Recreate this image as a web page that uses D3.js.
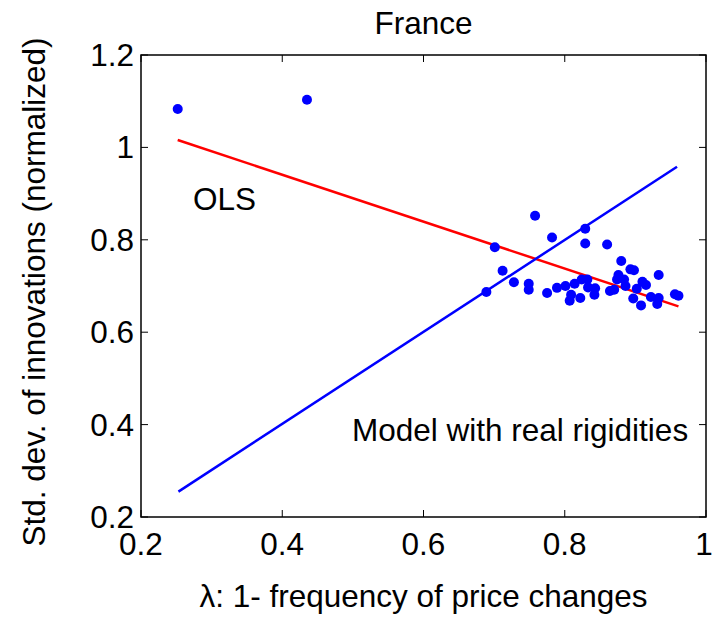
<!DOCTYPE html>
<html><head><meta charset="utf-8">
<script src="https://cdn.jsdelivr.net/npm/d3@7"></script>
<style>body{margin:0;background:#fff}svg text{font-family:"Liberation Sans",Arial,sans-serif;fill:#000}</style>
</head><body><svg id="c" width="712" height="618"></svg>
<script>
const lambdaX = [0.252,0.435,0.758,0.701,0.782,0.829,0.829,0.860,0.712,0.689,0.728,0.749,0.749,0.775,0.789,0.801,0.814,0.824,0.832,0.833,0.843,0.842,0.809,0.807,0.822,0.880,0.893,0.898,0.876,0.874,0.884,0.886,0.864,0.870,0.933,0.910,0.915,0.902,0.897,0.908,0.922,0.933,0.931,0.956,0.961];
const stdDevY = [1.083,1.103,0.852,0.784,0.805,0.824,0.792,0.790,0.733,0.687,0.708,0.705,0.692,0.685,0.696,0.700,0.705,0.714,0.714,0.697,0.695,0.681,0.681,0.668,0.674,0.754,0.736,0.734,0.724,0.714,0.714,0.700,0.689,0.692,0.724,0.709,0.702,0.694,0.673,0.658,0.676,0.674,0.661,0.682,0.679];
const olsLine = [[0.252,1.016],[0.961,0.656]];
const modelLine = [[0.253,0.255],[0.959,0.958]];
const xTicks = [0.2,0.4,0.6,0.8,1];
const yTicks = [0.2,0.4,0.6,0.8,1,1.2];
const labels = {title:"France", x:"λ: 1- frequency of price changes", y:"Std. dev. of innovations (normalized)", ols:"OLS", model:"Model with real rigidities"};

const svg = d3.select("#c");
const L=141,R=706,T=55,B=517;
const x = d3.scaleLinear().domain([0.2,1]).range([L,R]);
const y = d3.scaleLinear().domain([0.2,1.2]).range([B,T]);
const fs = 31.5;
const fmt = d => d===1?"1":d3.format(".1f")(d);

const g = svg.append("g");
const tk=7;
xTicks.forEach(v=>{
  g.append("line").attr("x1",x(v)).attr("x2",x(v)).attr("y1",B).attr("y2",B-tk).attr("stroke","#000");
  g.append("line").attr("x1",x(v)).attr("x2",x(v)).attr("y1",T).attr("y2",T+tk).attr("stroke","#000");
  g.append("text").attr("x",v===1?x(v)-2:x(v)).attr("y",B+38).attr("text-anchor","middle").attr("font-size",fs).text(fmt(v));
});
yTicks.forEach(v=>{
  g.append("line").attr("x1",L).attr("x2",L+tk).attr("y1",y(v)).attr("y2",y(v)).attr("stroke","#000");
  g.append("line").attr("x1",R).attr("x2",R-tk).attr("y1",y(v)).attr("y2",y(v)).attr("stroke","#000");
  g.append("text").attr("x",L-7).attr("y",y(v)+11).attr("text-anchor","end").attr("font-size",fs).text(fmt(v));
});
g.append("rect").attr("x",L).attr("y",T).attr("width",R-L).attr("height",B-T).attr("fill","none").attr("stroke","#000").attr("stroke-width",1.5);

const line = d3.line().x(d=>x(d[0])).y(d=>y(d[1]));
svg.append("path").attr("d",line(olsLine)).attr("stroke","#ff0000").attr("stroke-width",2.5).attr("fill","none");
svg.append("path").attr("d",line(modelLine)).attr("stroke","#0000ff").attr("stroke-width",2.5).attr("fill","none");

svg.selectAll("circle.p").data(lambdaX.map((v,i)=>[v,stdDevY[i]])).enter().append("circle")
  .attr("cx",d=>x(d[0])).attr("cy",d=>y(d[1])).attr("r",5).attr("fill","#0000ff");

svg.append("text").attr("x",(L+R)/2).attr("y",34).attr("text-anchor","middle").attr("font-size",fs).text(labels.title);
svg.append("text").attr("x",(L+R)/2).attr("y",607).attr("text-anchor","middle").attr("font-size",fs).text(labels.x);
svg.append("text").attr("transform","translate(45,292) rotate(-90)").attr("text-anchor","middle").attr("font-size",fs).text(labels.y);
svg.append("text").attr("x",193).attr("y",210).attr("font-size",fs).text(labels.ols);
svg.append("text").attr("x",352).attr("y",441).attr("font-size",fs).text(labels.model);
</script></body></html>
